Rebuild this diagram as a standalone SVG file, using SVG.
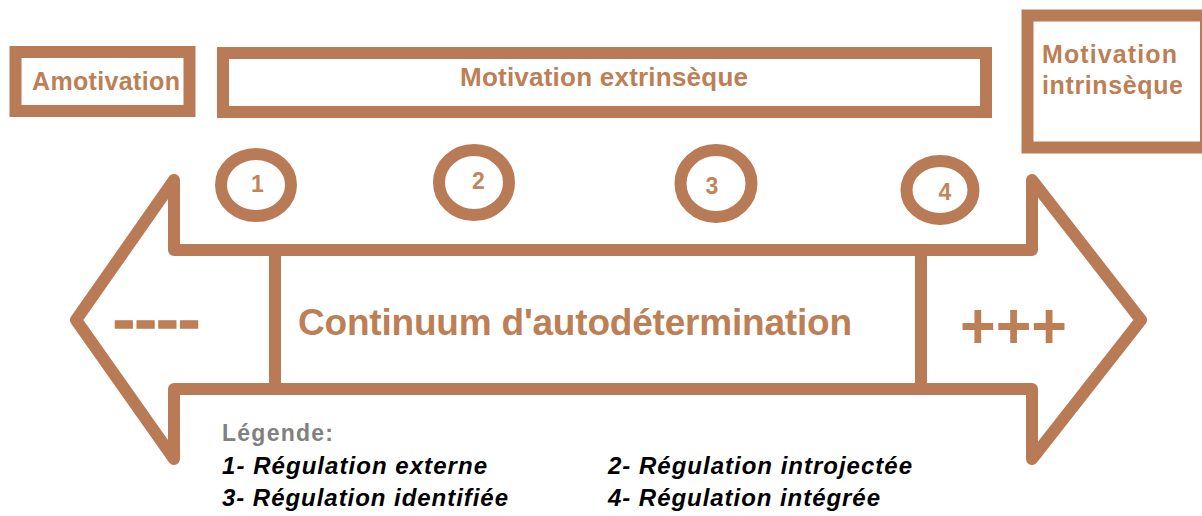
<svg xmlns="http://www.w3.org/2000/svg" width="1202" height="516" viewBox="0 0 1202 516">
<style>
.box{fill:#fff;stroke:#b97a56;stroke-width:12}
.ring{fill:#fff;stroke:#b97a56;stroke-width:12}
.t{font-family:"Liberation Sans",Arial,sans-serif;font-weight:bold;fill:#bd7f55}
.num{font-family:"Liberation Sans",Arial,sans-serif;font-weight:bold;fill:#c0855a;font-size:23px;text-anchor:middle}
.leg{font-family:"Liberation Sans",Arial,sans-serif;font-weight:bold;font-style:italic;fill:#000;font-size:24px}
</style>
<rect width="1202" height="516" fill="#fff"/>
<g id="connectors">
<polygon points="76,320 174,180 174,250 1032,250 1032,180 1141,320 1032,459 1032,389 174,389 174,459" fill="#fff" stroke="#b97a56" stroke-width="12" stroke-linejoin="round"/>
<line x1="275" y1="250" x2="275" y2="389" stroke="#b97a56" stroke-width="12"/>
<line x1="921" y1="250" x2="921" y2="389" stroke="#b97a56" stroke-width="12"/>
</g>
<g id="continuum">
<text class="t" x="298" y="335" font-size="37" textLength="554">Continuum d'autodétermination</text>
<text class="t" x="113" y="340" font-size="60" textLength="87" lengthAdjust="spacingAndGlyphs" stroke="#bd7f55" stroke-width="1.5">----</text>
<text class="t" x="960" y="348" font-size="64" textLength="107" lengthAdjust="spacingAndGlyphs">+++</text>
</g>
<g id="amotivation">
<rect class="box" x="15.5" y="52" width="174" height="59"/>
<text class="t" x="32" y="90" font-size="25" textLength="148">Amotivation</text>
</g>
<g id="extrinseque">
<rect class="box" x="223" y="53" width="763" height="59"/>
<text class="t" x="460" y="86" font-size="26" textLength="288">Motivation extrinsèque</text>
</g>
<g id="intrinseque">
<rect class="box" x="1027.5" y="15.5" width="178.5" height="132"/>
<text class="t" x="1042" y="63" font-size="25" textLength="135">Motivation</text>
<text class="t" x="1042" y="94" font-size="25" textLength="141">intrinsèque</text>
</g>
<g id="r1">
<ellipse class="ring" cx="256" cy="185" rx="35" ry="31"/>
<text class="num" x="257.5" y="192">1</text>
</g>
<g id="r2">
<ellipse class="ring" cx="474" cy="182.5" rx="35" ry="32.5"/>
<text class="num" x="478.5" y="189">2</text>
</g>
<g id="r3">
<ellipse class="ring" cx="716" cy="183.5" rx="35.5" ry="33.5"/>
<text class="num" x="712" y="194">3</text>
</g>
<g id="r4">
<ellipse class="ring" cx="940" cy="190" rx="33.5" ry="29"/>
<text class="num" x="945" y="200">4</text>
</g>
<g id="legend">
<text x="222" y="441" font-family="Liberation Sans, Arial, sans-serif" font-weight="bold" font-size="23" fill="#808080" textLength="111">Légende:</text>
<text class="leg" x="222" y="474" textLength="265">1- Régulation externe</text>
<text class="leg" x="608" y="474" textLength="304">2- Régulation introjectée</text>
<text class="leg" x="222" y="506" textLength="286">3- Régulation identifiée</text>
<text class="leg" x="608" y="506" textLength="272">4- Régulation intégrée</text>
</g>
</svg>
